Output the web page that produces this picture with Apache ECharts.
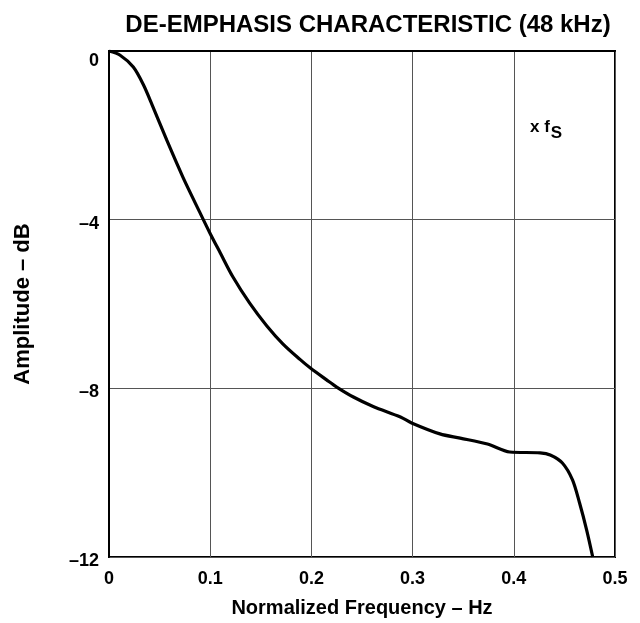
<!DOCTYPE html>
<html>
<head>
<meta charset="utf-8">
<script src="https://cdn.jsdelivr.net/npm/echarts@6/dist/echarts.min.js"></script>
<style>html,body{margin:0;padding:0;background:#fff;}#c{width:640px;height:623px;}</style>
</head>
<body>
<div id="c"></div>
<script>
const freq = [0, 0.011, 0.024, 0.034, 0.043, 0.057, 0.073, 0.090, 0.0998, 0.110, 0.1225, 0.139, 0.156, 0.172, 0.189, 0.199, 0.215, 0.225, 0.241, 0.261, 0.288, 0.299, 0.327, 0.347, 0.374, 0.396, 0.426, 0.436, 0.448, 0.458, 0.465, 0.472, 0.478];
const amp = [0, -0.10, -0.38, -0.80, -1.30, -2.11, -2.99, -3.84, -4.32, -4.79, -5.36, -5.98, -6.52, -6.95, -7.32, -7.52, -7.80, -7.97, -8.20, -8.43, -8.68, -8.82, -9.08, -9.18, -9.32, -9.51, -9.53, -9.58, -9.77, -10.17, -10.72, -11.36, -12.0];
const xTicks = ['0', '0.1', '0.2', '0.3', '0.4', '0.5'];
const yTicks = {'0': '{z|0}', '-4': '–4', '-8': '–8', '-12': '–12'};
const titleText = 'DE-EMPHASIS CHARACTERISTIC (48 kHz)';
const xName = 'Normalized Frequency – Hz';
const yName = 'Amplitude – dB';

const chart = echarts.init(document.getElementById('c'), null, {renderer: 'canvas'});
const font = 'Liberation Sans, Arial, Helvetica, sans-serif';
chart.setOption({
  animation: false,
  backgroundColor: '#fff',
  title: {
    text: titleText, left: 363, top: 8, textAlign: 'center',
    textStyle: {fontFamily: font, fontWeight: 'bold', fontSize: 24, color: '#000'}
  },
  grid: {left: 109, right: 25, top: 51, bottom: 66, show: true, borderColor: '#000', borderWidth: 2},
  xAxis: {
    type: 'value', min: 0, max: 0.5, interval: 0.1,
    name: xName, nameLocation: 'middle', nameGap: 41,
    nameTextStyle: {fontFamily: font, fontWeight: 'bold', fontSize: 20, color: '#000'},
    axisLine: {show: true, lineStyle: {color: '#000', width: 2}},
    axisTick: {show: false},
    splitLine: {show: true, lineStyle: {color: '#555', width: 1}},
    axisLabel: {
      fontFamily: font, fontWeight: 'bold', fontSize: 18, color: '#000', margin: 13,
      formatter: v => xTicks[Math.round(v * 10)]
    }
  },
  yAxis: {
    type: 'value', min: -12, max: 0, interval: 4,
    name: yName, nameLocation: 'middle', nameGap: 75, nameRotate: 90,
    nameTextStyle: {fontFamily: font, fontWeight: 'bold', fontSize: 22, color: '#000'},
    axisLine: {show: true, lineStyle: {color: '#000', width: 2}},
    axisTick: {show: false},
    splitLine: {show: true, lineStyle: {color: '#555', width: 1}},
    axisLabel: {
      fontFamily: font, fontWeight: 'bold', fontSize: 18, color: '#000', margin: 10,
      padding: [8, 0, 0, 0],
      formatter: v => yTicks[String(Math.round(v))],
      rich: {z: {fontFamily: font, fontWeight: 'bold', fontSize: 18, color: '#000', padding: [12, 0, 0, 0]}}
    }
  },
  series: [{
    type: 'line', smooth: 0.3, symbol: 'none',
    data: freq.map((f, i) => [f, amp[i]]),
    lineStyle: {color: '#000', width: 3.2}
  }],
  graphic: [{
    type: 'text', left: 530, top: 119,
    style: {
      text: '{a|x f}{b|S}',
      rich: {
        a: {fontFamily: font, fontWeight: 'bold', fontSize: 17, fill: '#000'},
        b: {fontFamily: font, fontWeight: 'bold', fontSize: 17, fill: '#000', padding: [11, 0, 0, 1]}
      }
    }
  }]
});
</script>
</body>
</html>
